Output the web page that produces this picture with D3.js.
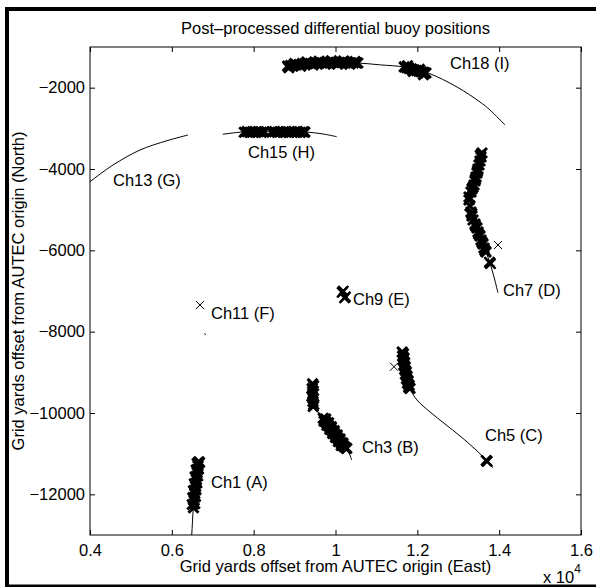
<!DOCTYPE html>
<html>
<head>
<meta charset="utf-8">
<script src="https://cdn.jsdelivr.net/npm/d3@7"></script>
<style>
  body { margin: 0; background: #fff; }
  svg { display: block; }
  text { font-family: "Liberation Sans", Arial, Helvetica, sans-serif; fill: #000; }
</style>
</head>
<body>
<div id="chart"></div>
<script>
// axis ticks (x in grid yards, shown as x 10^4)
const xTicks = [4000, 6000, 8000, 10000, 12000, 14000, 16000]
const xTickLabels = ['0.4', '0.6', '0.8', '1', '1.2', '1.4', '1.6']
const yTicks = [-12000, -10000, -8000, -6000, -4000, -2000]
const yTickLabels = ['−12000', '−10000', '−8000', '−6000', '−4000', '−2000']

// buoy tracks (solid lines), [east, north]
const ch1Track = [[6440, -13500], [6486, -13000], [6525, -12343], [6600, -11750], [6671, -11197]]
const ch3Track = [[9440, -9250], [9458, -9845], [9520, -9930], [9650, -10060], [10274, -10868], [10396, -11156]]
const ch5Track = [[11620, -8450], [11821, -9385], [11992, -9680], [12310, -9975], [12676, -10270], [13043, -10565], [13409, -10885], [13703, -11180], [13850, -11352]]
const ch7Track = [[13605, -3530], [13483, -4000], [13336, -4492], [13263, -4750], [13311, -5057], [13458, -5451], [13678, -6041], [13776, -6312], [13880, -6680], [13971, -7049]]
const ch11Track = [[6800, -8040], [6825, -8080]]
const ch13Track = [[3800, -4470], [4000, -4312], [4562, -3902], [5222, -3533], [5882, -3304], [6395, -3164]]
const ch15Track = [[7243, -3147], [7739, -3090], [8500, -3085], [9255, -3090], [9700, -3140], [10029, -3206]]
const ch18Track = [[8815, -1467], [9621, -1393], [10110, -1381], [10550, -1393], [11100, -1440], [11674, -1492], [12261, -1639], [12970, -1984], [13532, -2352], [13776, -2549], [14143, -2918]]

// dense runs of differential fixes (x markers), [east, north]
const ch1Fixes = [[6530, -12330], [6500, -12250], [6560, -12230], [6545, -12150], [6515, -12080], [6575, -12060], [6560, -11980], [6530, -11910], [6590, -11890], [6580, -11810], [6550, -11740], [6610, -11720], [6600, -11640], [6570, -11570], [6630, -11550], [6620, -11470], [6595, -11400], [6650, -11380], [6640, -11300], [6620, -11240], [6675, -11220], [6660, -11200]]
const ch3Fixes = [[9440, -9280], [9465, -9330], [9430, -9400], [9455, -9460], [9445, -9530], [9425, -9590], [9460, -9640], [9450, -9720], [9470, -9790], [9455, -9840],
  [9700, -10130], [9740, -10170], [9770, -10230], [9810, -10270], [9845, -10330], [9885, -10370], [9915, -10430], [9955, -10470], [9990, -10530], [10030, -10570], [10060, -10630], [10100, -10670], [10135, -10730], [10175, -10770], [10205, -10820], [10245, -10850], [10275, -10870],
  [9760, -10150], [9830, -10240], [9900, -10340], [9970, -10440], [10040, -10540], [10110, -10640], [10180, -10740], [9720, -10200], [9790, -10300], [9860, -10400], [9930, -10500], [10000, -10600], [10070, -10700], [10140, -10800]]
const ch5Fixes = [[11630, -8500], [11660, -8540], [11640, -8600], [11675, -8650], [11650, -8700], [11690, -8760], [11670, -8820], [11705, -8870], [11690, -8930], [11730, -8990], [11710, -9050], [11750, -9100], [11735, -9160], [11775, -9210], [11760, -9270], [11800, -9320], [11790, -9370], [11820, -9395]]
const ch7Fixes = [[13580, -3607], [13556, -3705], [13532, -3803], [13507, -3902], [13483, -4000], [13458, -4098], [13434, -4197], [13409, -4295], [13385, -4393], [13336, -4492], [13311, -4566], [13263, -4689], [13263, -4762], [13287, -4910], [13311, -5057], [13336, -5156], [13361, -5254], [13409, -5352], [13458, -5451], [13483, -5549], [13532, -5648], [13556, -5746], [13605, -5844], [13629, -5943], [13678, -6041],
  [13540, -3660], [13470, -4050], [13420, -4250], [13360, -4450], [13330, -5100], [13420, -5400], [13500, -5600], [13580, -5800], [13650, -6000]]
const ch15Fixes = [[7770, -3095], [7840, -3080], [7910, -3100], [7980, -3085], [8050, -3095], [8120, -3080], [8190, -3098], [8260, -3085], [8440, -3090], [8510, -3080], [8580, -3098], [8650, -3085], [8720, -3095], [8790, -3080], [8860, -3098], [8930, -3085], [9000, -3095], [9070, -3080], [9140, -3098], [9210, -3088], [9250, -3092]]
const ch18Fixes = [[8830, -1470], [8900, -1455], [8970, -1450], [9040, -1440], [9110, -1430], [9180, -1425], [9250, -1415], [9320, -1410], [9390, -1405], [9460, -1400], [9530, -1395], [9600, -1395], [9670, -1390], [9740, -1385], [9810, -1385], [9880, -1380], [9950, -1380], [10020, -1380], [10090, -1380], [10160, -1382], [10230, -1385], [10300, -1385], [10370, -1388], [10440, -1390], [10510, -1392], [10545, -1395],
  [8860, -1510], [9000, -1410], [9150, -1470], [9300, -1370], [9450, -1440], [9600, -1350], [9750, -1420], [9900, -1340], [10050, -1420], [10200, -1345], [10350, -1420], [10480, -1360],
  [11680, -1490], [11740, -1510], [11800, -1525], [11860, -1545], [11920, -1560], [11980, -1580], [12040, -1595], [12100, -1610], [12160, -1625], [12210, -1640], [11760, -1460], [11900, -1600], [12050, -1550], [12150, -1680]]

// a few repeated fixes at one spot (bold x)
const ch5End = [[13696, -11180], [13680, -11165], [13710, -11195]]
const ch7End = [[13776, -6312], [13760, -6290], [13790, -6330]]
const ch9Fixes = [[10176, -7017], [10190, -7000], [10160, -7035], [10232, -7155], [10245, -7140], [10220, -7170]]

// lone fixes (thin x)
const ch5Single = [[11430, -8862]]
const ch7Single = [[13971, -5869]]
const ch11Single = [[6688, -7344]]

// channel names and where they are written (data units, left/baseline)
const channelNames = ['Ch1 (A)', 'Ch3 (B)', 'Ch5 (C)', 'Ch7 (D)', 'Ch9 (E)', 'Ch11 (F)', 'Ch13 (G)', 'Ch15 (H)', 'Ch18 (I)']
const nameEast = [6957, 10648, 13654, 14094, 10428, 6957, 4562, 7862, 12798]
const nameNorth = [-11844, -10983, -10688, -7123, -7344, -7688, -4418, -3729, -1541]

const W = 596, H = 587
const margin = {top: 47, right: 15, bottom: 52, left: 90}
const width = W - margin.left - margin.right,
  height = H - margin.top - margin.bottom

const svg = d3.select('#chart').append('svg')
  .attr('width', W)
  .attr('height', H)

// figure frame
svg.append('rect')
  .attr('x', 7).attr('y', 9)
  .attr('width', 600).attr('height', 577.5)
  .attr('fill', 'none')
  .attr('stroke', '#000')
  .attr('stroke-width', 4)

const g = svg.append('g')
  .attr('transform', `translate(${margin.left}, ${margin.top})`)

const x = d3.scaleLinear().domain([4000, 16000]).range([0, width])
const y = d3.scaleLinear().domain([-13000, -1000]).range([height, 0])

g.append('clipPath').attr('id', 'plot-clip')
  .append('rect').attr('width', width).attr('height', height)

const fs = 16.5

// axes with inward ticks
g.append('g')
  .attr('transform', `translate(0, ${height})`)
  .call(d3.axisBottom(x).tickValues(xTicks).tickFormat((d, i) => xTickLabels[i])
    .tickSizeInner(-5).tickSizeOuter(0).tickPadding(9))
g.append('g')
  .call(d3.axisTop(x).tickValues(xTicks).tickFormat('').tickSizeInner(-5).tickSizeOuter(0))
g.append('g')
  .call(d3.axisLeft(y).tickValues(yTicks).tickFormat((d, i) => yTickLabels[i])
    .tickSizeInner(-5).tickSizeOuter(0).tickPadding(5))
g.append('g')
  .attr('transform', `translate(${width}, 0)`)
  .call(d3.axisRight(y).tickValues(yTicks).tickFormat('').tickSizeInner(-5).tickSizeOuter(0))

g.selectAll('.domain').remove()
g.selectAll('.tick line').attr('stroke', '#000')
g.selectAll('.tick text')
  .style('font-family', '"Liberation Sans", Arial, sans-serif')
  .style('font-size', fs + 'px')
  .attr('fill', '#000')

g.append('rect')
  .attr('width', width).attr('height', height)
  .attr('fill', 'none')
  .attr('stroke', '#000')
  .attr('stroke-width', 1)

// tracks
const line = d3.line()
  .x(d => x(d[0]))
  .y(d => y(d[1]))
  .curve(d3.curveCatmullRom)
const plot = g.append('g').attr('clip-path', 'url(#plot-clip)')
const tracks = [ch1Track, ch3Track, ch5Track, ch7Track, ch11Track, ch13Track, ch15Track, ch18Track]
plot.selectAll('.track')
  .data(tracks)
  .enter().append('path')
  .attr('class', 'track')
  .attr('d', line)
  .attr('fill', 'none')
  .attr('stroke', '#000')
  .attr('stroke-width', 1)

// x markers
function crosses(cls, pts, r, sw) {
  plot.selectAll('.' + cls)
    .data(pts)
    .enter().append('path')
    .attr('class', cls)
    .attr('d', `M${-r},${-r}L${r},${r}M${-r},${r}L${r},${-r}`)
    .attr('transform', d => `translate(${x(d[0])}, ${y(d[1])})`)
    .attr('fill', 'none')
    .attr('stroke', '#000')
    .attr('stroke-width', sw)
}
crosses('run', [].concat(ch1Fixes, ch3Fixes, ch5Fixes, ch7Fixes, ch15Fixes, ch18Fixes), 5, 3)
crosses('bold', [].concat(ch5End, ch7End, ch9Fixes), 5, 2.2)
crosses('single', [].concat(ch5Single, ch7Single, ch11Single), 4, 1)

// channel labels
g.selectAll('.chname')
  .data(channelNames)
  .enter().append('text')
  .attr('class', 'chname')
  .attr('x', (d, i) => x(nameEast[i]))
  .attr('y', (d, i) => y(nameNorth[i]))
  .style('font-size', fs + 'px')
  .text(d => d)

// titles
svg.append('text')
  .attr('x', margin.left + width / 2)
  .attr('y', 34)
  .attr('text-anchor', 'middle')
  .style('font-size', fs + 'px')
  .text('Post–processed differential buoy positions')
svg.append('text')
  .attr('x', margin.left + width / 2)
  .attr('y', 572)
  .attr('text-anchor', 'middle')
  .style('font-size', fs + 'px')
  .text('Grid yards offset from AUTEC origin (East)')
svg.append('text')
  .attr('transform', `translate(24, ${margin.top + height / 2}) rotate(-90)`)
  .attr('text-anchor', 'middle')
  .style('font-size', fs + 'px')
  .text('Grid yards offset from AUTEC origin (North)')
const expo = svg.append('text')
  .attr('x', 543)
  .attr('y', 583)
  .style('font-size', fs + 'px')
expo.append('tspan').text('x 10')
expo.append('tspan').attr('dy', -10).style('font-size', '12px').text('4')
</script>
</body>
</html>
